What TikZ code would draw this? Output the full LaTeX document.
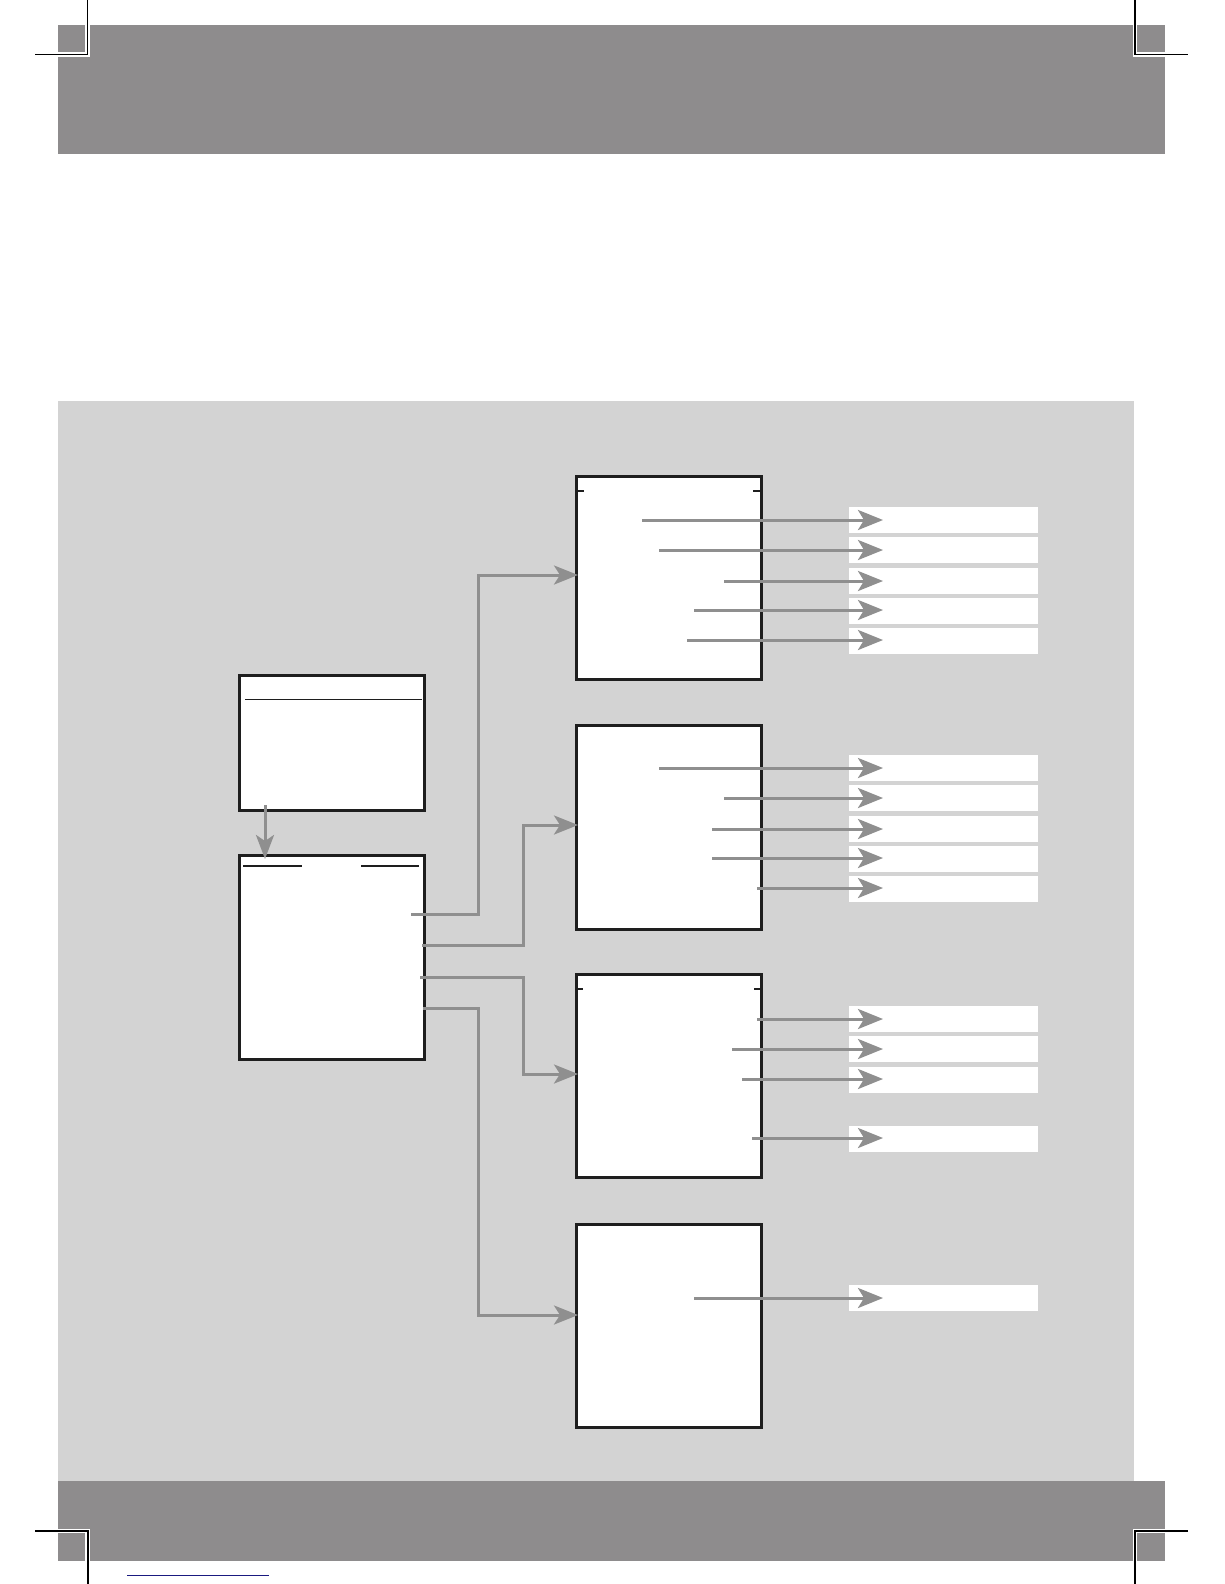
\documentclass[tikz,border=0pt]{standalone}
\usetikzlibrary{arrows.meta}
\definecolor{bandgray}{HTML}{8E8C8D}
\definecolor{panelgray}{HTML}{D3D3D3}
\definecolor{arrgray}{HTML}{8F8F8F}
\definecolor{boxline}{HTML}{1E1E1E}
\definecolor{navy}{HTML}{1A1A80}
\tikzset{
  box/.style={draw=boxline, fill=white, line width=3pt, inner sep=0pt, minimum width=185pt},
  bar/.style={fill=white, inner sep=0pt, minimum width=189pt, minimum height=26pt, anchor=north west},
  outarr/.style={draw=arrgray, line width=3pt, -{Stealth[length=25pt,width=20pt,inset=6pt]}},
  conn/.style={draw=arrgray, line width=3pt, -{Stealth[length=24pt,width=19pt,inset=6pt]}},
  crop/.style={draw=black, line width=1.3pt},
  tick/.style={draw=boxline, line width=2pt},
}
\begin{document}
\begin{tikzpicture}[x=1pt,y=-1pt]
\useasboundingbox (0,0) rectangle (1224,1584);
\fill[white] (0,0) rectangle (1224,1584);
% top band
\fill[bandgray] (58,25) rectangle (1165,154);
\fill[white] (85,25) rectangle (90,57);
\fill[white] (58,52) rectangle (90,57);
\fill[white] (1133,25) rectangle (1137,57);
\fill[white] (1133,52) rectangle (1165,57);
\draw[crop] (87.5,0) -- (87.5,54.5) -- (35,54.5);
\draw[crop] (1135,0) -- (1135,54.5) -- (1188,54.5);
% panel
\fill[panelgray] (58,401) rectangle (1134,1481);
% bottom band
\fill[bandgray] (58,1481) rectangle (1165,1561);
\fill[white] (58,1529) rectangle (90,1533);
\fill[white] (85,1529) rectangle (90,1561);
\fill[white] (1133,1529) rectangle (1165,1533);
\fill[white] (1133,1529) rectangle (1137,1561);
\draw[crop] (35,1531) -- (88,1531) -- (88,1584);
\draw[crop] (1188,1531) -- (1135,1531) -- (1135,1584);
\draw[navy, line width=1pt] (127,1575) -- (269,1575);
% white bars
\foreach \y [count=\i] in {507,537,568,598,628, 755,785,816,846,876, 1006,1036,1067,1126, 1285}
  \node[bar] (bar\i) at (849,\y) {};
% boxes
\node[box, minimum width=185pt, minimum height=135pt] (a) at (332,743) {};
\node[box, minimum height=204pt] (b) at (332,957.5) {};
\node[box, minimum height=203pt] (c1) at (669,578) {};
\node[box, minimum height=204pt] (c2) at (669,827.5) {};
\node[box, minimum height=203pt] (c3) at (669,1076) {};
\node[box, minimum height=203pt] (c4) at (669,1326) {};
% inner rules
\draw[boxline, line width=1pt] (245,699) -- (422,699);
\draw[boxline, line width=2pt] (243,866) -- (302,866);
\draw[boxline, line width=2pt] (361,866) -- (419,866);
\draw[tick] (577,491) -- (584,491);
\draw[tick] (753,491) -- (760,491);
\draw[tick] (578,989) -- (583,989);
\draw[tick] (754,989) -- (760,989);
% arrow A -> B
\coordinate (ab1) at (265,805);
\coordinate (ab2) at (265,859);
\draw[draw=arrgray, line width=3pt, -{Stealth[length=24pt,width=18pt,inset=6pt]}] (ab1) -- (ab2);
% connectors B -> C
\coordinate (s1) at (411,914);
\coordinate (s2) at (422,945);
\coordinate (s3) at (420,977);
\coordinate (s4) at (423,1008);
\coordinate (j1) at (478,914);
\coordinate (j2) at (523,945);
\coordinate (j3) at (523,977);
\coordinate (j4) at (478,1008);
\coordinate (e1) at (578,575);
\coordinate (e2) at (578,825);
\coordinate (e3) at (578,1074);
\coordinate (e4) at (578,1315);
\draw[conn] (s1) -- (j1) |- (e1);
\draw[conn] (s2) -- (j2) |- (e2);
\draw[conn] (s3) -- (j3) |- (e3);
\draw[conn] (s4) -- (j4) |- (e4);
% output arrows
\foreach \x/\y [count=\i] in {642/520,659/550,724/581,694/610,687/640,
                              659/768,724/798,712/829,712/858,757/888,
                              757/1019,732/1049,742/1079,752/1138,
                              694/1298}
{
  \coordinate (os\i) at (\x,\y);
  \coordinate (ot\i) at (883,\y);
  \draw[outarr] (os\i) -- (ot\i);
}
\end{tikzpicture}
\end{document}
